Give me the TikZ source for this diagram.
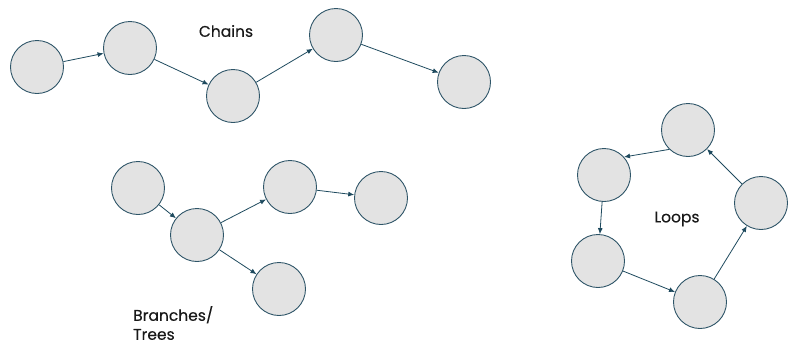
\documentclass[tikz,border=0pt]{standalone}
\usepackage{fontspec}
\setmainfont{Poppins}
\newfontfamily\lblfont{Poppins}[FakeBold=0.35]
\usetikzlibrary{arrows.meta}
\definecolor{nodefill}{HTML}{E3E3E3}
\definecolor{nodeline}{HTML}{2E5568}
\definecolor{edgecol}{HTML}{1E4A5E}
\begin{document}
\begin{tikzpicture}[x=1pt,y=-1pt,
  nd/.style={circle,draw=nodeline,fill=nodefill,line width=0.9pt,minimum size=53pt,inner sep=0pt},
  edge/.style={draw=edgecol,line width=0.8pt,-{Latex[length=6pt,width=5pt]}},
  lbl/.style={font=\lblfont\fontsize{15.5}{17}\selectfont,text=black!90,inner sep=0pt}]
\useasboundingbox (0,0) rectangle (788,346);
% Chains
\node[nd] (c1) at (37,67) {};
\node[nd] (c2) at (130,48) {};
\node[nd] (c3) at (233,96) {};
\node[nd] (c4) at (336,35) {};
\node[nd] (c5) at (464,82) {};
\node[lbl] (tc) at (226,31) {Chains};
\draw[edge] (c1) -- (c2);
\draw[edge] (c2) -- (c3);
\draw[edge] (c3) -- (c4);
\draw[edge] (c4) -- (c5);
% Branches
\node[nd] (b1) at (138,188) {};
\node[nd] (b2) at (197,235) {};
\node[nd] (b3) at (290,187) {};
\node[nd] (b4) at (381,198) {};
\node[nd] (b5) at (279,289) {};
\node[lbl,anchor=north west,align=left] (tb) at (133,306) {Branches/\\[2pt]Trees};
\draw[edge] (b1) -- (b2);
\draw[edge] (b2) -- (b3);
\draw[edge] (b3) -- (b4);
\draw[edge] (b2) -- (b5);
% Loops
\node[nd] (l1) at (688,130) {};
\node[nd] (l2) at (604,175) {};
\node[nd] (l3) at (598,261) {};
\node[nd] (l4) at (700,302) {};
\node[nd] (l5) at (761,203) {};
\node[lbl] (tl) at (677,219) {Loops};
\draw[edge] (l1.226) -- (l2.42);
\draw[edge] (l2) -- (l3);
\draw[edge] (l3) -- (l4);
\draw[edge] (l4) -- (l5);
\draw[edge] (l5) -- (l1);
\end{tikzpicture}
\end{document}
